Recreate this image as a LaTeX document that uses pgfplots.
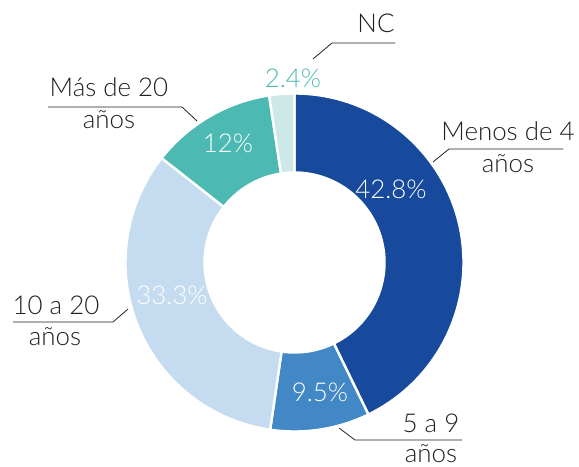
\documentclass[border=0pt]{standalone}
\usepackage{pgfplots}
\pgfplotsset{compat=1.18}
\usepackage{fontspec}
\setmainfont{Lato Light}
\definecolor{cA}{HTML}{17499C}
\definecolor{cB}{HTML}{4287C6}
\definecolor{cC}{HTML}{C5DBF0}
\definecolor{cD}{HTML}{4CBAB2}
\definecolor{cE}{HTML}{CDE9E7}
\definecolor{txt}{HTML}{231F20}
\tikzset{lbl/.style={font=\fontsize{26}{30}\selectfont, anchor=base, inner sep=0pt}}
% slice: start (percent), value (percent), colour
\newcommand{\slice}[3]{%
  \fill[#3,draw=white,line width=2.4bp,line join=miter]
    ([shift={({90-3.6*(#1)}:169bp)}]axis cs:294.5,204.5)
    arc[start angle={90-3.6*(#1)}, end angle={90-3.6*(#1+#2)}, radius=169bp]
    -- ([shift={({90-3.6*(#1+#2)}:90bp)}]axis cs:294.5,204.5)
    arc[start angle={90-3.6*(#1+#2)}, end angle={90-3.6*(#1)}, radius=90bp]
    -- cycle;}
\begin{document}
\begin{tikzpicture}
\begin{axis}[
  width=579bp, height=467bp, scale only axis,
  xmin=0, xmax=579, ymin=0, ymax=467,
  hide axis, clip=false,
]
% values: Menos de 4 = 42.8, 5 a 9 = 9.5, 10 a 20 = 33.3, Mas de 20 = 12, NC = 2.4
\slice{0}{42.8}{cA}
\slice{42.8}{9.5}{cB}
\slice{52.3}{33.3}{cC}
\slice{85.6}{12}{cD}
\slice{97.6}{2.4}{cE}
% percentage labels
\node[lbl,text=white] at (axis cs:391,268) {42.8\%};
\node[lbl,text=white] at (axis cs:320,65) {9.5\%};
\node[lbl,text=white] at (axis cs:172,162) {33.3\%};
\node[lbl,text=white] at (axis cs:228,314) {12\%};
\node[lbl,text=cD] at (axis cs:293,379) {2.4\%};
% leader lines
\draw[txt,line width=0.8bp] (axis cs:313,408) -- (axis cs:332,424) -- (axis cs:395,424);
\draw[txt,line width=0.8bp] (axis cs:433,305) -- (axis cs:449,318) -- (axis cs:563,318);
\draw[txt,line width=0.8bp] (axis cs:48,360) -- (axis cs:182,360) -- (axis cs:197,346);
\draw[txt,line width=0.8bp] (axis cs:13,145) -- (axis cs:113,145) -- (axis cs:128,158);
\draw[txt,line width=0.8bp] (axis cs:339,39) -- (axis cs:355,27) -- (axis cs:462,27);
% category labels
\node[lbl,text=txt] at (axis cs:376,434) {NC};
\node[lbl,text=txt] at (axis cs:508,326) {Menos de 4};
\node[lbl,text=txt] at (axis cs:508,294) {años};
\node[lbl,text=txt] at (axis cs:109,370) {Más de 20};
\node[lbl,text=txt] at (axis cs:109,338) {años};
\node[lbl,text=txt] at (axis cs:56,152) {10 a 20};
\node[lbl,text=txt] at (axis cs:55,121) {años};
\node[lbl,text=txt] at (axis cs:431,34) {5 a 9};
\node[lbl,text=txt] at (axis cs:431,4) {años};
\end{axis}
\pgfresetboundingbox
\path (0,0) rectangle (579bp,467bp);
\end{tikzpicture}
\end{document}
